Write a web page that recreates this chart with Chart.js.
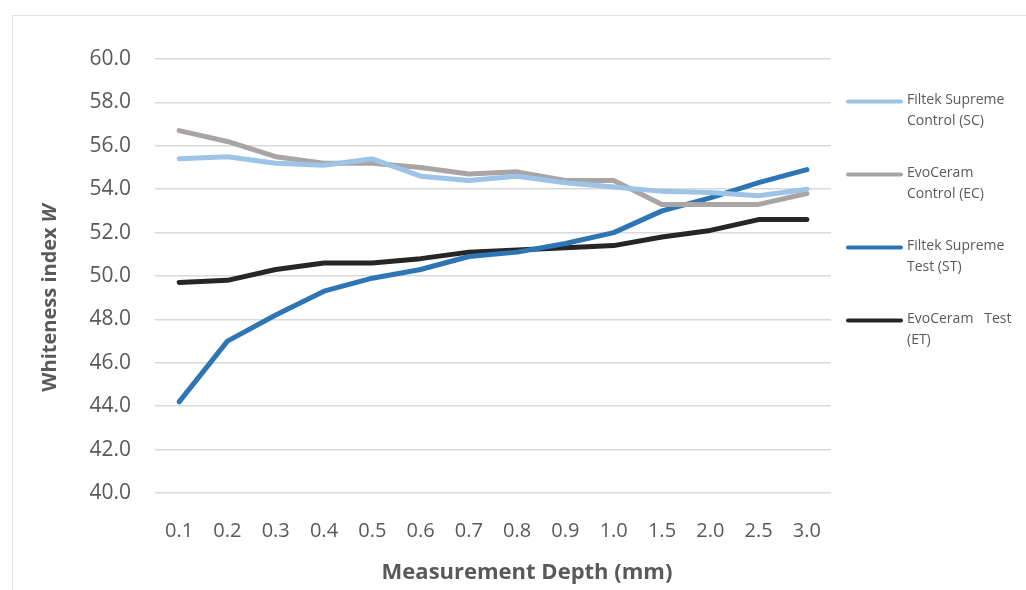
<!DOCTYPE html>
<html>
<head>
<meta charset="utf-8">
<script src="https://cdn.jsdelivr.net/npm/chart.js@4.4.1/dist/chart.umd.min.js"></script>
<style>
  html, body { margin: 0; padding: 0; background: #fff; }
  #wrap { position: relative; width: 1026px; height: 590px; }
  #frame { position: absolute; left: 12px; top: 15px; width: 1040px; height: 600px; border: 1.5px solid #e3e3e3; box-sizing: border-box; }
  canvas { position: absolute; left: 0; top: 0; }
</style>
</head>
<body>
<div id="wrap">
  <div id="frame"></div>
  <canvas id="whiteness-chart" width="1026" height="590"></canvas>
</div>
<script>
const depths = ['0.1', '0.2', '0.3', '0.4', '0.5', '0.6', '0.7', '0.8', '0.9', '1.0', '1.5', '2.0', '2.5', '3.0'];
const filtekControl = [55.4, 55.5, 55.2, 55.1, 55.4, 54.6, 54.4, 54.6, 54.3, 54.1, 53.9, 53.85, 53.7, 54.0];
const evoControl = [56.7, 56.2, 55.5, 55.2, 55.2, 55.0, 54.7, 54.8, 54.4, 54.4, 53.3, 53.3, 53.3, 53.8];
const filtekTest = [44.2, 47.0, 48.2, 49.3, 49.9, 50.3, 50.9, 51.1, 51.5, 52.0, 53.0, 53.6, 54.3, 54.9];
const evoTest = [49.7, 49.8, 50.3, 50.6, 50.6, 50.8, 51.1, 51.2, 51.3, 51.4, 51.8, 52.1, 52.6, 52.6];
const seriesNames = [
    ['Filtek Supreme', 'Control (SC)'],
    ['EvoCeram', 'Control (EC)'],
    ['Filtek Supreme', 'Test (ST)'],
    ['EvoCeram   Test', '(ET)']
];

(function () {
    const chart = document.getElementById('whiteness-chart');
    const textColor = '#595959';

    // legend on the right + axis titles (y title has an italic W)
    const extras = {
        id: 'extras',
        afterDraw(c) {
            const ctx = c.ctx;
            ctx.save();
            // legend
            c.data.datasets.forEach((ds, i) => {
                const y = 101.5 + i * 73;
                ctx.strokeStyle = ds.borderColor;
                ctx.lineWidth = 4;
                ctx.lineCap = 'round';
                ctx.beginPath();
                ctx.moveTo(848, y);
                ctx.lineTo(901, y);
                ctx.stroke();
                ctx.fillStyle = textColor;
                ctx.font = '14px "Open Sans"';
                ctx.textAlign = 'left';
                ctx.textBaseline = 'middle';
                seriesNames[i].forEach((line, j) => {
                    ctx.fillText(line, 907, y - 1 + j * 21);
                });
            });
            // x title
            ctx.fillStyle = textColor;
            ctx.font = 'bold 22px "Open Sans"';
            ctx.textAlign = 'center';
            ctx.textBaseline = 'middle';
            ctx.fillText('Measurement Depth (mm)', 527, 573);
            // y title
            ctx.translate(50, 298);
            ctx.rotate(-Math.PI / 2);
            const a = 'Whiteness index ';
            ctx.font = 'bold 20px "Open Sans"';
            const wa = ctx.measureText(a).width;
            ctx.font = 'italic bold 20px "Open Sans"';
            const wb = ctx.measureText('W').width;
            const start = -(wa + wb) / 2;
            ctx.textAlign = 'left';
            ctx.font = 'bold 20px "Open Sans"';
            ctx.fillText(a, start, 0);
            ctx.font = 'italic bold 20px "Open Sans"';
            ctx.fillText('W', start + wa, 0);
            ctx.restore();
        }
    };

    new Chart(chart, {
        type: 'line',
        data: {
            labels: depths,
            datasets: [
                { label: 'Filtek Supreme Control (SC)', data: filtekControl, borderColor: '#9dc3e6' },
                { label: 'EvoCeram Control (EC)', data: evoControl, borderColor: '#a9a5a5' },
                { label: 'Filtek Supreme Test (ST)', data: filtekTest, borderColor: '#2e75b6' },
                { label: 'EvoCeram Test (ET)', data: evoTest, borderColor: '#262626' }
            ].map(ds => Object.assign(ds, {
                borderWidth: 5,
                pointRadius: 0,
                fill: false,
                tension: 0,
                borderCapStyle: 'round',
                borderJoinStyle: 'round'
            }))
        },
        options: {
            responsive: false,
            animation: false,
            layout: {
                padding: { left: 0, right: 195, top: 59, bottom: 0 }
            },
            scales: {
                x: {
                    offset: true,
                    grid: { display: false },
                    border: { display: false },
                    ticks: {
                        color: textColor,
                        font: { family: 'Open Sans', size: 20 },
                        padding: 18,
                        maxRotation: 0
                    },
                    afterFit(scale) { scale.height = 97; }
                },
                y: {
                    min: 40,
                    max: 60,
                    grid: { color: '#d9d9d9', lineWidth: 1.5, drawTicks: false },
                    border: { display: false },
                    ticks: {
                        stepSize: 2,
                        color: textColor,
                        font: { family: 'Open Sans', size: 21 },
                        padding: 24,
                        callback: v => v.toFixed(1)
                    },
                    afterFit(scale) { scale.width = 155; }
                }
            },
            plugins: {
                legend: { display: false },
                tooltip: { enabled: false }
            }
        },
        plugins: [extras]
    });
})();
</script>
</body>
</html>
